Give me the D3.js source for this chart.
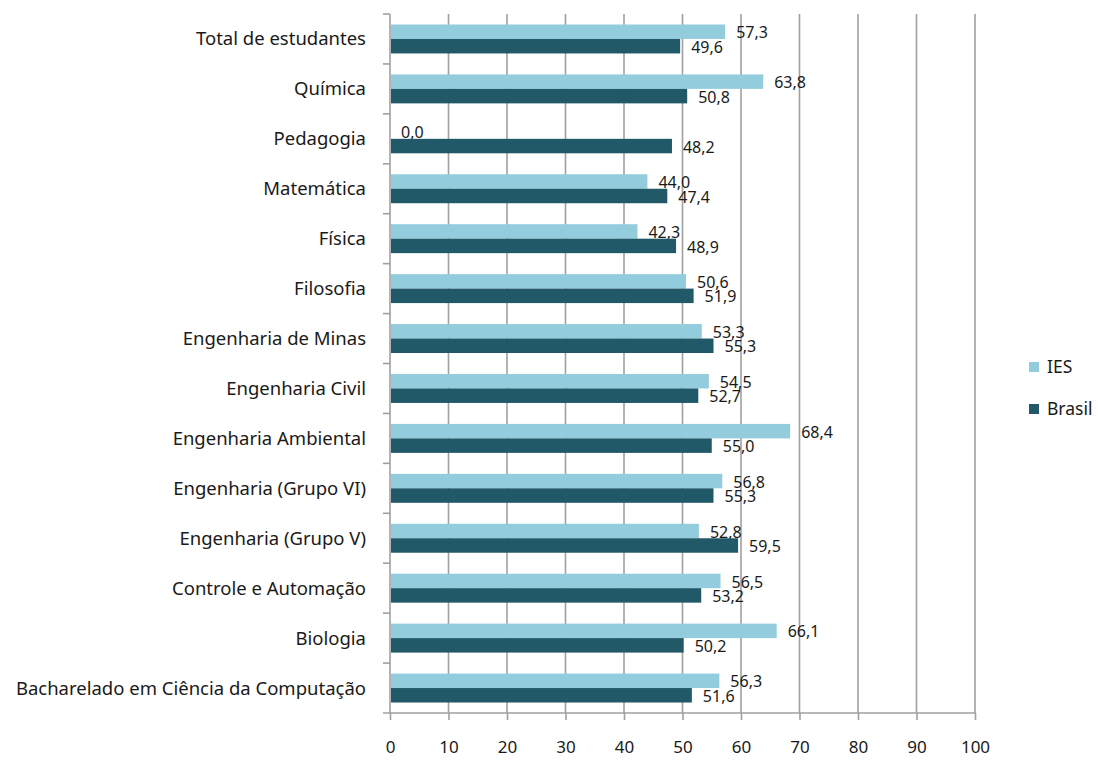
<!DOCTYPE html>
<html><head><meta charset="utf-8">
<script src="https://cdn.jsdelivr.net/npm/d3@7"></script>
<style>body{margin:0;background:#fff;} svg{display:block;}</style>
</head><body>
<svg id="chart" width="1098" height="760"></svg>
<script>
const categories = ["Total de estudantes","Química","Pedagogia","Matemática","Física","Filosofia","Engenharia de Minas","Engenharia Civil","Engenharia Ambiental","Engenharia (Grupo VI)","Engenharia (Grupo V)","Controle e Automação","Biologia","Bacharelado em Ciência da Computação"];
const iesValues = [57.3,63.8,0.0,44.0,42.3,50.6,53.3,54.5,68.4,56.8,52.8,56.5,66.1,56.3];
const brasilValues = [49.6,50.8,48.2,47.4,48.9,51.9,55.3,52.7,55.0,55.3,59.5,53.2,50.2,51.6];
const seriesNames = ["IES","Brasil"];
const xTicks = [0,10,20,30,40,50,60,70,80,90,100];

const colors = {IES:"#93CDDD", Brasil:"#215968"};
const font = "'Noto Sans', sans-serif";
const svg = d3.select("#chart");
const m = {left:390, right:975, top:14, bottom:713};

const x = d3.scaleLinear().domain([0,100]).range([m.left, m.right]);
const y = d3.scaleBand().domain(categories).range([m.top, m.bottom]).paddingInner(0.42).paddingOuter(0.21);
const ys = d3.scaleBand().domain(seriesNames).range([0, y.bandwidth()]);

// gridlines
svg.append("g").selectAll("line").data(xTicks.slice(1)).join("line")
  .attr("x1", d=>x(d)).attr("x2", d=>x(d)).attr("y1", m.top).attr("y2", m.bottom)
  .attr("stroke","#a0a0a0").attr("stroke-width",1.6);

// x axis
const xAxis = svg.append("g").attr("transform",`translate(0,${m.bottom})`)
  .call(d3.axisBottom(x).tickValues(xTicks).tickSize(7).tickPadding(21).tickFormat(d3.format("d")));
xAxis.select(".domain").attr("stroke","#a0a0a0").attr("stroke-width",1.6).attr("d",`M${m.left-7},0H${m.right}`);
xAxis.selectAll(".tick line").attr("stroke","#a0a0a0").attr("stroke-width",1.6);
xAxis.selectAll(".tick text").attr("font-family",font).attr("font-size",17).attr("fill","#1a1a1a");

// y axis line and boundary ticks
svg.append("line").attr("x1",m.left).attr("x2",m.left).attr("y1",m.top).attr("y2",m.bottom)
  .attr("stroke","#a0a0a0").attr("stroke-width",1.6);
const bounds = d3.range(categories.length).map(i => m.top + i*(m.bottom-m.top)/categories.length);
svg.append("g").selectAll("line").data(bounds).join("line")
  .attr("x1",m.left-7).attr("x2",m.left).attr("y1",d=>d).attr("y2",d=>d)
  .attr("stroke","#a0a0a0").attr("stroke-width",1.6);

// category labels
svg.append("g").selectAll("text").data(categories).join("text")
  .attr("x", m.left-24).attr("y", d=>y(d)+y.bandwidth()/2).attr("dy","0.35em")
  .attr("text-anchor","end").attr("font-family",font).attr("font-size",18.5).attr("fill","#1a1a1a")
  .text(d=>d);

const rows = categories.map((c,i)=>({c, IES:iesValues[i], Brasil:brasilValues[i]}));
seriesNames.forEach(s=>{
  const g = svg.append("g");
  g.selectAll("rect").data(rows).join("rect")
    .attr("x", x(0)+1).attr("y", d=>y(d.c)+ys(s))
    .attr("width", d=>Math.max(0, x(d[s])-x(0)-1)).attr("height", ys.bandwidth())
    .attr("fill", colors[s]);
  g.selectAll("text").data(rows).join("text")
    .attr("x", d=>x(d[s])+11).attr("y", d=>y(d.c)+ys(s)+ys.bandwidth()/2+1).attr("dy","0.35em")
    .attr("font-family",font).attr("font-size",16).attr("fill","#1a1a1a")
    .text(d=>d3.format(".1f")(d[s]).replace(".",","));
});

// legend
const lg = svg.append("g").attr("transform","translate(1029,362)");
seriesNames.forEach((s,i)=>{
  lg.append("rect").attr("x",0).attr("y",i*42).attr("width",10).attr("height",10).attr("fill",colors[s]);
  lg.append("text").attr("x",18).attr("y",i*42+5).attr("dy","0.35em")
    .attr("font-family",font).attr("font-size",17.5).attr("fill","#1a1a1a").text(s);
});
</script>
</body></html>
